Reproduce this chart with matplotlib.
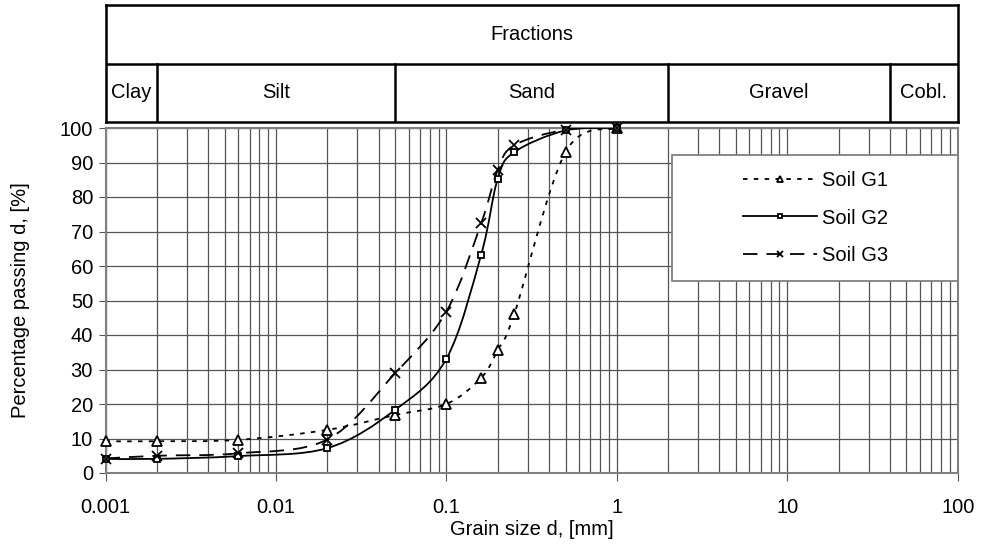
import numpy as np
import matplotlib
matplotlib.use("Agg")
import matplotlib.pyplot as plt
from matplotlib.path import Path
from matplotlib.patches import PathPatch, Rectangle
from matplotlib.lines import Line2D
from matplotlib.ticker import FixedLocator, LogLocator, NullFormatter

plt.rcParams['font.family'] = ['Liberation Sans', 'DejaVu Sans']
plt.rcParams['font.size'] = 14.5

# grain sizes [mm] and percentage passing
sizes = [0.001, 0.002, 0.006, 0.02, 0.05, 0.1, 0.16, 0.2, 0.25, 0.5, 1.0]
g1 = [9.2, 9.2, 9.6, 12.5, 16.8, 20.0, 27.6, 35.6, 46.0, 93.0, 100.0]
g2 = [4.1, 4.1, 4.9, 7.2, 18.3, 33.1, 63.3, 85.3, 93.0, 99.3, 100.0]
g3 = [4.2, 5.0, 5.7, 9.7, 28.9, 46.8, 72.4, 87.8, 95.0, 99.5, 100.0]
labels = ['Soil G1', 'Soil G2', 'Soil G3']

# fraction boundaries [mm]
frac_names = ['Clay', 'Silt', 'Sand', 'Gravel', 'Cobl.']
frac_edges = [0.001, 0.002, 0.05, 2, 40, 100]

xticks = [0.001, 0.01, 0.1, 1, 10, 100]
xticklabels = ['0.001', '0.01', '0.1', '1', '10', '100']


def smooth_path(xs, ys):
    # excel-like smoothed line: catmull-rom bezier in (log x, y)
    pts = np.column_stack([np.log10(xs), ys])
    ext = np.vstack([pts[0], pts, pts[-1]])
    verts = [pts[0]]
    codes = [Path.MOVETO]
    for i in range(len(pts) - 1):
        p0, p1, p2, p3 = ext[i], ext[i + 1], ext[i + 2], ext[i + 3]
        verts += [p1 + (p2 - p0) / 6, p2 - (p3 - p1) / 6, p2]
        codes += [Path.CURVE4] * 3
    verts = np.array(verts)
    verts[:, 0] = 10 ** verts[:, 0]
    return Path(verts, codes)


W, H = 983, 545
fig = plt.figure(figsize=(W / 100, H / 100), dpi=100)
ax = fig.add_axes([105.5 / W, 72 / H, 852.2 / W, 345 / H])

gridc = '#555555'
ax.set_xscale('log')
ax.set_xlim(0.001, 100)
ax.set_ylim(0, 100)
ax.xaxis.set_major_locator(FixedLocator(xticks))
ax.set_xticklabels(xticklabels)
ax.xaxis.set_minor_locator(LogLocator(base=10, subs=np.arange(2, 10)))
ax.xaxis.set_minor_formatter(NullFormatter())
ax.set_yticks(np.arange(0, 101, 10))
ax.grid(True, which='both', axis='x', color=gridc, lw=0.9)
ax.grid(True, which='major', axis='y', color=gridc, lw=0.9)
ax.set_axisbelow(True)
ax.tick_params(axis='x', which='major', length=6, color=gridc, pad=12)
ax.tick_params(axis='x', which='minor', length=0)
ax.tick_params(axis='y', length=5, color=gridc, pad=4)
for s in ax.spines.values():
    s.set_color('#808080')
    s.set_linewidth(1.5)

ax.set_xlabel('Grain size d, [mm]', labelpad=2)
ax.set_ylabel('Percentage passing d, [%]', labelpad=21)

styles = [
    dict(ls=(0, (2.5, 3.5)), marker='^', ms=6.5),
    dict(ls='-', marker='s', ms=5),
    dict(ls=(0, (8, 5)), marker='x', ms=7.5),
]
handles = []
for ys, st, lab in zip([g1, g2, g3], styles, labels):
    ax.add_patch(PathPatch(smooth_path(sizes, ys), fill=False, ec='black',
                           lw=1.3, ls=st['ls'], zorder=3))
    ax.plot(sizes, ys, ls='none', marker=st['marker'], ms=st['ms'],
            mfc='white', mec='black', mew=1.3, zorder=4, clip_on=False)
    handles.append(Line2D([], [], color='black', lw=1.3, ls=st['ls'],
                          marker=st['marker'], ms=st['ms'] * 0.65,
                          mfc='white', mec='black', mew=1.3))

# legend box
ax.add_patch(Rectangle((0.665, 0.557), 0.335, 0.365, transform=ax.transAxes,
                       fc='white', ec='#808080', lw=1.3, zorder=5))
leg = ax.legend(handles, labels, loc='center left',
                bbox_to_anchor=(0.748, 0.739), frameon=False,
                handlelength=3.7, handletextpad=0.25, labelspacing=0.9,
                borderpad=0, borderaxespad=0, fontsize=14.5)
leg.set_zorder(6)

# fractions table
tax = fig.add_axes([105.5 / W, (H - 122) / H, 852.2 / W, 117 / H])
tax.set_xscale('log')
tax.set_xlim(0.001, 100)
tax.set_ylim(0, 2)
tax.set_xticks([])
tax.set_yticks([])
tax.minorticks_off()
for s in tax.spines.values():
    s.set_color('black')
    s.set_linewidth(1.8)
tax.axhline(1, color='black', lw=1.8)
for e in frac_edges[1:-1]:
    tax.plot([e, e], [0, 1], color='black', lw=1.8)
tax.text(np.sqrt(frac_edges[0] * frac_edges[-1]), 1.5, 'Fractions',
         ha='center', va='center')
for name, a, b in zip(frac_names, frac_edges[:-1], frac_edges[1:]):
    tax.text(np.sqrt(a * b), 0.5, name, ha='center', va='center')

fig.savefig('out.png', dpi=100)
